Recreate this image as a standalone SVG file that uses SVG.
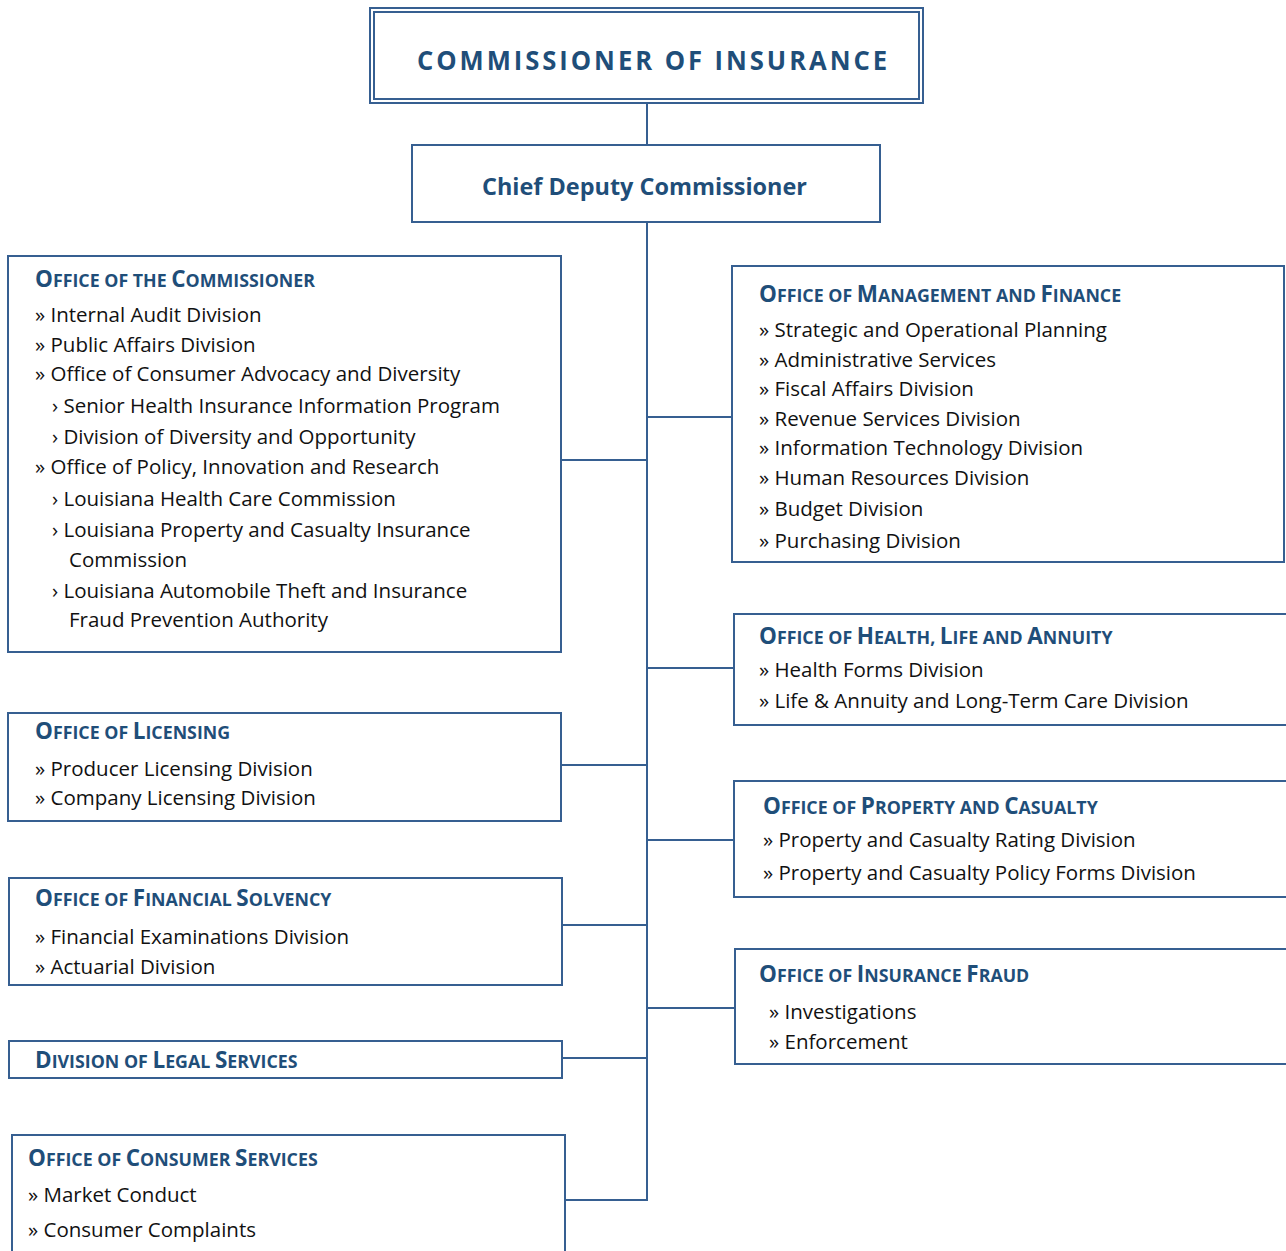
<svg xmlns="http://www.w3.org/2000/svg" width="1286" height="1251" viewBox="0 0 1286 1251">
<style>
.box{fill:#fff;stroke:#365F91;stroke-width:2}
.ln{fill:none;stroke:#365F91;stroke-width:2}
.hd{font-family:"Open Sans","Liberation Sans",sans-serif;font-weight:bold;fill:#1F4E79;font-size:17.8px}
.hd .c{font-size:22.5px}
.it{font-family:"Open Sans","Liberation Sans",sans-serif;font-size:20.5px;fill:#111}
.ttl{font-family:"Open Sans","Liberation Sans",sans-serif;font-weight:bold;fill:#1F4E79}
</style>
<rect width="1286" height="1251" fill="#fff"/>
<g id="connectors">
<line class="ln" x1="647" y1="103" x2="647" y2="145"/>
<polyline class="ln" points="647,222 647,1200 565,1200"/>
<line class="ln" x1="561" y1="460" x2="647" y2="460"/>
<line class="ln" x1="561" y1="765" x2="647" y2="765"/>
<line class="ln" x1="562" y1="925" x2="647" y2="925"/>
<line class="ln" x1="562" y1="1058" x2="647" y2="1058"/>
<line class="ln" x1="647" y1="417" x2="732" y2="417"/>
<line class="ln" x1="647" y1="668" x2="734" y2="668"/>
<line class="ln" x1="647" y1="840" x2="734" y2="840"/>
<line class="ln" x1="647" y1="1008" x2="735" y2="1008"/>
</g>
<g id="commissioner">
<rect class="box" x="370" y="8" width="553" height="95"/>
<rect class="box" x="374" y="12" width="545" height="87"/>
<text class="ttl" x="417" y="70" font-size="26" letter-spacing="3" textLength="473" lengthAdjust="spacingAndGlyphs">COMMISSIONER OF INSURANCE</text>
</g>
<g id="chief-deputy">
<rect class="box" x="412" y="145" width="468" height="77"/>
<text class="ttl" x="482" y="195" font-size="24" textLength="325" lengthAdjust="spacingAndGlyphs">Chief Deputy Commissioner</text>
</g>
<g id="office-commissioner">
<rect class="box" x="8" y="256" width="553" height="396"/>
<text class="hd" x="35" y="287"><tspan class="c">O</tspan>FFICE OF THE <tspan class="c">C</tspan>OMMISSIONER</text>
<text class="it" x="35" y="322">» Internal Audit Division</text>
<text class="it" x="35" y="352">» Public Affairs Division</text>
<text class="it" x="35" y="381">» Office of Consumer Advocacy and Diversity</text>
<text class="it" x="52" y="413">› Senior Health Insurance Information Program</text>
<text class="it" x="52" y="444">› Division of Diversity and Opportunity</text>
<text class="it" x="35" y="474">» Office of Policy, Innovation and Research</text>
<text class="it" x="52" y="506">› Louisiana Health Care Commission</text>
<text class="it" x="52" y="537">› Louisiana Property and Casualty Insurance</text>
<text class="it" x="69" y="567">Commission</text>
<text class="it" x="52" y="598">› Louisiana Automobile Theft and Insurance</text>
<text class="it" x="69" y="627">Fraud Prevention Authority</text>
</g>
<g id="office-licensing">
<rect class="box" x="8" y="713" width="553" height="108"/>
<text class="hd" x="35" y="739"><tspan class="c">O</tspan>FFICE OF <tspan class="c">L</tspan>ICENSING</text>
<text class="it" x="35" y="776">» Producer Licensing Division</text>
<text class="it" x="35" y="805">» Company Licensing Division</text>
</g>
<g id="office-financial-solvency">
<rect class="box" x="9" y="878" width="553" height="107"/>
<text class="hd" x="35" y="906"><tspan class="c">O</tspan>FFICE OF <tspan class="c">F</tspan>INANCIAL <tspan class="c">S</tspan>OLVENCY</text>
<text class="it" x="35" y="944">» Financial Examinations Division</text>
<text class="it" x="35" y="974">» Actuarial Division</text>
</g>
<g id="division-legal">
<rect class="box" x="9" y="1041" width="553" height="37"/>
<text class="hd" x="35" y="1068"><tspan class="c">D</tspan>IVISION OF <tspan class="c">L</tspan>EGAL <tspan class="c">S</tspan>ERVICES</text>
</g>
<g id="office-consumer-services">
<rect class="box" x="12" y="1135" width="553" height="130"/>
<text class="hd" x="28" y="1166"><tspan class="c">O</tspan>FFICE OF <tspan class="c">C</tspan>ONSUMER <tspan class="c">S</tspan>ERVICES</text>
<text class="it" x="28" y="1202">» Market Conduct</text>
<text class="it" x="28" y="1237">» Consumer Complaints</text>
</g>
<g id="office-management-finance">
<rect class="box" x="732" y="266" width="552" height="296"/>
<text class="hd" x="759" y="302"><tspan class="c">O</tspan>FFICE OF <tspan class="c">M</tspan>ANAGEMENT AND <tspan class="c">F</tspan>INANCE</text>
<text class="it" x="759" y="337">» Strategic and Operational Planning</text>
<text class="it" x="759" y="367">» Administrative Services</text>
<text class="it" x="759" y="396">» Fiscal Affairs Division</text>
<text class="it" x="759" y="426">» Revenue Services Division</text>
<text class="it" x="759" y="455">» Information Technology Division</text>
<text class="it" x="759" y="485">» Human Resources Division</text>
<text class="it" x="759" y="516">» Budget Division</text>
<text class="it" x="759" y="548">» Purchasing Division</text>
</g>
<g id="office-health-life-annuity">
<rect class="box" x="734" y="614" width="560" height="111"/>
<text class="hd" x="759" y="644"><tspan class="c">O</tspan>FFICE OF <tspan class="c">H</tspan>EALTH, <tspan class="c">L</tspan>IFE AND <tspan class="c">A</tspan>NNUITY</text>
<text class="it" x="759" y="677">» Health Forms Division</text>
<text class="it" x="759" y="708">» Life &amp; Annuity and Long-Term Care Division</text>
</g>
<g id="office-property-casualty">
<rect class="box" x="734" y="781" width="560" height="116"/>
<text class="hd" x="763" y="814"><tspan class="c">O</tspan>FFICE OF <tspan class="c">P</tspan>ROPERTY AND <tspan class="c">C</tspan>ASUALTY</text>
<text class="it" x="763" y="847">» Property and Casualty Rating Division</text>
<text class="it" x="763" y="880">» Property and Casualty Policy Forms Division</text>
</g>
<g id="office-insurance-fraud">
<rect class="box" x="735" y="949" width="560" height="115"/>
<text class="hd" x="759" y="982"><tspan class="c">O</tspan>FFICE OF <tspan class="c">I</tspan>NSURANCE <tspan class="c">F</tspan>RAUD</text>
<text class="it" x="769" y="1019">» Investigations</text>
<text class="it" x="769" y="1049">» Enforcement</text>
</g>
</svg>
